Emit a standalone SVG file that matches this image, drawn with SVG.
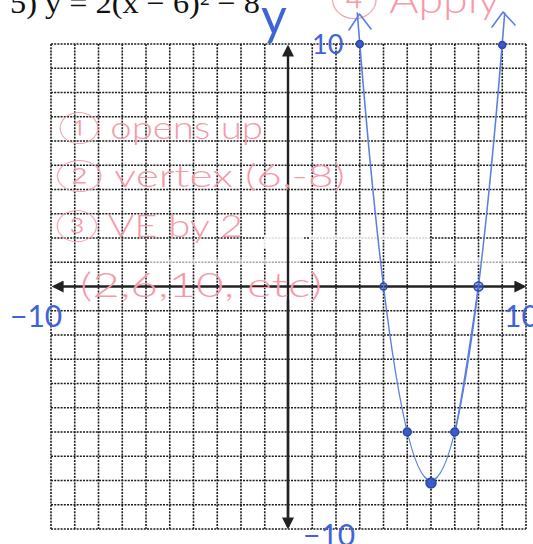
<svg xmlns="http://www.w3.org/2000/svg" width="533" height="544" viewBox="0 0 533 544">
<defs>
<style>
.grid{stroke:#1a1a1a;stroke-width:1.6;stroke-dasharray:2 1.2;fill:none}
.axis{stroke:#222;stroke-width:2.4;fill:none}
.blue{stroke:#5b7fe0;stroke-width:1.6;fill:none;stroke-linecap:round;stroke-linejoin:round}
.dot{fill:#3a5cc8;stroke:#2a47a8;stroke-width:1.5}
.pink{fill:#f59aa8;font-family:Lato,"Open Sans","DejaVu Sans",sans-serif;font-weight:300}
.bl{fill:#3f63d8;font-family:Lato,"Liberation Sans","DejaVu Sans",sans-serif}
</style>
<marker id="ah" viewBox="0 0 10 10" refX="8" refY="5" markerWidth="5" markerHeight="5" orient="auto-start-reverse">
<path d="M0 0L10 5L0 10z" fill="#222"/>
</marker>
</defs>
<rect width="533" height="544" fill="#fff"/>
<text x="10" y="13" font-family="Liberation Serif,serif" font-size="30" fill="#111" textLength="250" lengthAdjust="spacingAndGlyphs">5) y = 2(x − 6)² − 8</text>
<g id="grid">
<path class="grid" d="M51 44V529M74.75 44V529M98.5 44V529M122.25 44V529M146 44V529M169.75 44V529M193.5 44V529M217.25 44V529M241 44V529M264.75 44V529M312.25 44V529M336 44V529M359.75 44V529M383.5 44V529M407.25 44V529M431 44V529M454.75 44V529M478.5 44V529M502.25 44V529M526 44V529"/>
<path class="grid" d="M51 44H526M51 68.25H526M51 92.5H526M51 116.75H526M51 141H526M51 165.25H526M51 189.5H526M51 213.75H526M51 238H526M51 262.25H526M51 310.75H526M51 335H526M51 359.25H526M51 383.5H526M51 407.75H526M51 432H526M51 456.25H526M51 480.5H526M51 504.75H526M51 529H526"/>
<rect x="264" y="236" width="40" height="12" fill="#fff" opacity="0.85"/>
<rect x="310" y="236" width="120" height="4" fill="#fff" opacity="0.8"/>
<rect x="150" y="259" width="150" height="5" fill="#fff" opacity="0.6"/>
<rect x="440" y="258" width="80" height="6" fill="#fff" opacity="0.6"/>
</g>
<g id="axes">
<path class="axis" d="M288 527V47" marker-end="url(#ah)"/>
<path class="axis" d="M288 300V527" marker-end="url(#ah)"/>
<path class="axis" d="M54 286.5H524" marker-start="url(#ah)" marker-end="url(#ah)"/>
</g>
<g id="notes">
<text class="pink" x="330" y="13" font-size="40" textLength="170" lengthAdjust="spacingAndGlyphs">④ Apply</text>
<text class="pink" x="58" y="139" font-size="32" textLength="205" lengthAdjust="spacingAndGlyphs">① opens up</text>
<text class="pink" x="55" y="187" font-size="32" textLength="290" lengthAdjust="spacingAndGlyphs">② vertex (6,-8)</text>
<text class="pink" x="55" y="237" font-size="32" textLength="188" lengthAdjust="spacingAndGlyphs">③ VE by 2</text>
<text class="pink" x="80" y="297" font-size="34" textLength="242" lengthAdjust="spacingAndGlyphs">(2,6,10, etc)</text>
</g>
<g id="labels">
<text class="bl" x="261" y="34" font-size="50">y</text>
<text class="bl" x="312" y="54" font-size="27">10</text>
<text class="bl" x="10" y="327" font-size="30">−10</text>
<text class="bl" x="504" y="327" font-size="30">10</text>
<text class="bl" x="303" y="546" font-size="30">−10</text>
</g>
<g id="curve">
<path class="blue" d="M357.3 13Q431 948 504.7 13"/>
<path class="blue" d="M478.5 286.5Q462 400 455 432"/>
<path class="blue" d="M349 30L359.5 14L371 29"/>
<path class="blue" d="M492 27L503 12L515 25"/>
</g>
<g id="points">
<circle class="dot" cx="359.75" cy="44" r="3.5"/>
<circle class="dot" cx="383.5" cy="286.5" r="3.5" fill-opacity="0.3"/>
<circle class="dot" cx="407.25" cy="432" r="4"/>
<circle class="dot" cx="431" cy="483" r="5"/>
<circle class="dot" cx="454.75" cy="432" r="4"/>
<circle class="dot" cx="478.5" cy="286.5" r="4.5" fill-opacity="0.5"/>
<circle class="dot" cx="502.25" cy="45" r="3.5"/>
</g>
</svg>
